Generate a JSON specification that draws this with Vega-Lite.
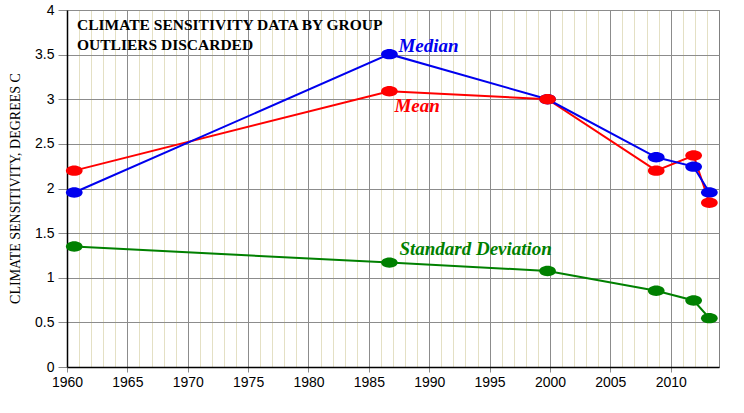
{
  "$schema": "https://vega.github.io/schema/vega-lite/v6.json",
  "width": 652,
  "height": 357,
  "autosize": {"type": "none"},
  "padding": {"left": 67, "top": 10, "right": 25, "bottom": 46},
  "background": "white",
  "config": {
    "view": {"stroke": "#808080", "strokeWidth": 1},
    "axis": {"labelFont": "Liberation Sans", "labelFontSize": 14, "labelColor": "#000000"}
  },
  "title": {
    "text": ["CLIMATE SENSITIVITY DATA BY GROUP", "OUTLIERS DISCARDED"],
    "anchor": "start",
    "frame": "group",
    "orient": "top",
    "offset": -62,
    "dx": 10,
    "baseline": "alphabetic",
    "font": "Liberation Serif",
    "fontSize": 15.5,
    "fontWeight": "bold",
    "color": "#000000",
    "lineHeight": 20
  },
  "data": {
    "values": [
      {"year": 1960.6, "stat": "Standard Deviation", "value": 1.35},
      {"year": 1986.7, "stat": "Standard Deviation", "value": 1.17},
      {"year": 1999.8, "stat": "Standard Deviation", "value": 1.076},
      {"year": 2008.8, "stat": "Standard Deviation", "value": 0.855},
      {"year": 2011.9, "stat": "Standard Deviation", "value": 0.745},
      {"year": 2013.2, "stat": "Standard Deviation", "value": 0.547},
      {"year": 1960.6, "stat": "Mean", "value": 2.2},
      {"year": 1986.7, "stat": "Mean", "value": 3.09},
      {"year": 1999.8, "stat": "Mean", "value": 3.0},
      {"year": 2008.8, "stat": "Mean", "value": 2.2},
      {"year": 2011.9, "stat": "Mean", "value": 2.37},
      {"year": 2013.2, "stat": "Mean", "value": 1.84},
      {"year": 1960.6, "stat": "Median", "value": 1.955},
      {"year": 1986.7, "stat": "Median", "value": 3.505},
      {"year": 1999.8, "stat": "Median", "value": 3.0},
      {"year": 2008.8, "stat": "Median", "value": 2.35},
      {"year": 2011.9, "stat": "Median", "value": 2.245},
      {"year": 2013.2, "stat": "Median", "value": 1.955}
    ]
  },
  "encoding": {
    "x": {
      "field": "year", "type": "quantitative",
      "scale": {"domain": [1960, 2014], "nice": false, "zero": false},
      "axis": {
        "title": null,
        "tickCount": 54,
        "values": [1960,1961,1962,1963,1964,1965,1966,1967,1968,1969,1970,1971,1972,1973,1974,1975,1976,1977,1978,1979,1980,1981,1982,1983,1984,1985,1986,1987,1988,1989,1990,1991,1992,1993,1994,1995,1996,1997,1998,1999,2000,2001,2002,2003,2004,2005,2006,2007,2008,2009,2010,2011,2012,2013],
        "labelExpr": "datum.value % 5 === 0 ? '' + datum.value : ''",
        "labelOverlap": false,
        "labelFlush": false,
        "labelPadding": 3,
        "grid": true,
        "gridColor": {"condition": {"test": "datum.value % 5 === 0", "value": "#8c8c8c"}, "value": "#e4e0c4"},
        "gridWidth": 1,
        "ticks": true,
        "tickSize": 5,
        "tickColor": {"condition": {"test": "datum.value % 5 === 0", "value": "#8c8c8c"}, "value": "transparent"},
        "domainColor": "#000000",
        "domainWidth": 1.5
      }
    },
    "y": {
      "field": "value", "type": "quantitative",
      "scale": {"domain": [0, 4], "nice": false},
      "axis": {
        "title": "CLIMATE SENSITIVITY, DEGREES C",
        "titleFont": "Liberation Serif",
        "titleFontSize": 14,
        "titleFontWeight": "normal",
        "titleColor": "#000000",
        "titleX": -52,
        "titleY": 178,
        "titleBaseline": "middle",
        "values": [0, 0.5, 1, 1.5, 2, 2.5, 3, 3.5, 4],
        "format": "~g",
        "labelFlush": false,
        "grid": true,
        "gridColor": "#8c8c8c",
        "gridWidth": 1,
        "tickSize": 9,
        "tickColor": "#8c8c8c",
        "labelPadding": 4,
        "domainColor": "#000000",
        "domainWidth": 1.5
      }
    },
    "color": {
      "field": "stat", "type": "nominal",
      "scale": {"domain": ["Standard Deviation", "Mean", "Median"], "range": ["#008000", "#ff0000", "#0000ee"]},
      "legend": null
    }
  },
  "layer": [
    {
      "mark": {"type": "line", "interpolate": "linear"},
      "encoding": {
        "strokeWidth": {
          "field": "stat", "type": "nominal",
          "scale": {"domain": ["Standard Deviation", "Mean", "Median"], "range": [2, 2, 1.6]},
          "legend": null
        }
      }
    },
    {
      "mark": {
        "type": "point",
        "filled": true,
        "opacity": 1,
        "shape": "M-1,0A1,0.62 0 1,0 1,0A1,0.62 0 1,0 -1,0Z",
        "size": 280
      },
      "encoding": {
        "order": {"field": "stat", "type": "nominal", "sort": "descending"}
      }
    },
    {
      "transform": [{"filter": "datum.stat === 'Median' && datum.year < 1990 && datum.year > 1980"}],
      "mark": {"type": "text", "text": "Median", "font": "Liberation Serif", "fontSize": 19, "fontStyle": "italic", "fontWeight": "bold", "align": "left", "baseline": "alphabetic", "dx": 9, "dy": -2}
    },
    {
      "transform": [{"filter": "datum.stat === 'Mean' && datum.year < 1990 && datum.year > 1980"}],
      "mark": {"type": "text", "text": "Mean", "font": "Liberation Serif", "fontSize": 19, "fontStyle": "italic", "fontWeight": "bold", "align": "left", "baseline": "alphabetic", "dx": 5, "dy": 21}
    },
    {
      "transform": [{"filter": "datum.stat === 'Standard Deviation' && datum.year < 1990 && datum.year > 1980"}],
      "mark": {"type": "text", "text": "Standard Deviation", "font": "Liberation Serif", "fontSize": 19, "fontStyle": "italic", "fontWeight": "bold", "align": "left", "baseline": "alphabetic", "dx": 10, "dy": -8}
    }
  ]
}
